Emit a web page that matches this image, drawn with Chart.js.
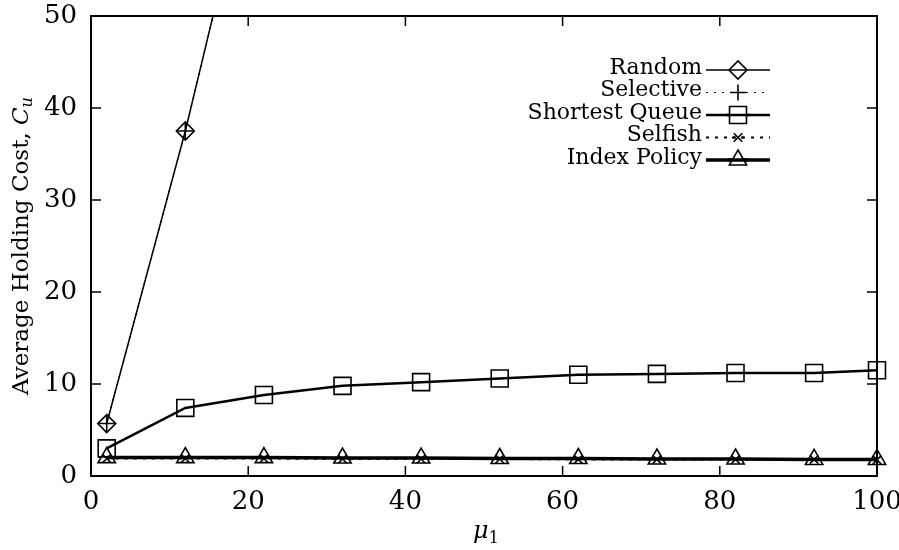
<!DOCTYPE html>
<html>
<head>
<meta charset="utf-8">
<script src="https://cdn.jsdelivr.net/npm/chart.js@4"></script>
<style>
  html, body { margin: 0; padding: 0; background: #fff; }
  #wrap { width: 899px; height: 550px; }
</style>
</head>
<body>
<div id="wrap"><canvas id="costChart"></canvas></div>
<script>
// service rate of queue 1
var muValues = [2, 12, 22, 32, 42, 52, 62, 72, 82, 92, 100];
// average holding cost per policy (null = beyond the plotted range)
var randomCost = [5.7, 37.5, 73, null, null, null, null, null, null, null, null];
var selectiveCost = [5.7, 37.5, 73, null, null, null, null, null, null, null, null];
var shortestQueueCost = [3.0, 7.4, 8.8, 9.8, 10.2, 10.6, 11.0, 11.1, 11.2, 11.2, 11.5];
var selfishCost = [1.9, 1.9, 1.9, 1.85, 1.85, 1.85, 1.8, 1.8, 1.8, 1.8, 1.75];
var indexCost = [2.0, 2.0, 2.0, 1.95, 1.95, 1.9, 1.9, 1.85, 1.85, 1.8, 1.8];
var xTicks = [0, 20, 40, 60, 80, 100];
var yTicks = [0, 10, 20, 30, 40, 50];

var SERIF = '"DejaVu Serif", "Liberation Serif", serif';

function pts(values) {
    return muValues.map(function (m, i) { return { x: m, y: values[i] }; });
}

var clipBox = { left: 20, right: 20, top: 0, bottom: 20 };

var series = [
    { label: 'Index Policy', data: indexCost, style: 'triangle', radius: 10, width: 3.5, dash: [] },
    { label: 'Selfish', data: selfishCost, style: 'crossRot', radius: 6, width: 2, dash: [3, 6] },
    { label: 'Shortest Queue', data: shortestQueueCost, style: 'rect', radius: 12, width: 2.5, dash: [] },
    { label: 'Selective', data: selectiveCost, style: 'cross', radius: 8, width: 1.2, dash: [2, 6] },
    { label: 'Random', data: randomCost, style: 'rectRot', radius: 9, width: 1.5, dash: [] }
];

var datasets = series.map(function (s) {
    return {
        label: s.label,
        data: pts(s.data),
        borderColor: '#000',
        backgroundColor: 'rgba(0,0,0,0)',
        borderWidth: s.width,
        borderDash: s.dash,
        pointStyle: s.style,
        pointRadius: s.radius,
        pointBorderWidth: 1.6,
        pointBorderColor: '#000',
        pointBackgroundColor: 'rgba(0,0,0,0)',
        tension: 0,
        clip: clipBox
    };
});

// frame with inward ticks on all four sides
var framePlugin = {
    id: 'frame',
    afterDatasetsDraw: function (chart) {
        var ctx = chart.ctx, a = chart.chartArea;
        var xs = chart.scales.x, ys = chart.scales.y;
        var len = 10;
        ctx.save();
        ctx.strokeStyle = '#000';
        ctx.lineWidth = 2;
        ctx.strokeRect(a.left, a.top, a.right - a.left, a.bottom - a.top);
        ctx.lineWidth = 1.5;
        ctx.beginPath();
        xTicks.forEach(function (v) {
            var px = xs.getPixelForValue(v);
            ctx.moveTo(px, a.bottom); ctx.lineTo(px, a.bottom - len);
            ctx.moveTo(px, a.top); ctx.lineTo(px, a.top + len);
        });
        yTicks.forEach(function (v) {
            var py = ys.getPixelForValue(v);
            ctx.moveTo(a.left, py); ctx.lineTo(a.left + len, py);
            ctx.moveTo(a.right, py); ctx.lineTo(a.right - len, py);
        });
        ctx.stroke();
        ctx.restore();
    }
};

// axis titles with italic symbols and subscripts
var titlePlugin = {
    id: 'axisTitles',
    afterDraw: function (chart) {
        var ctx = chart.ctx, a = chart.chartArea;
        ctx.save();
        ctx.fillStyle = '#000';
        ctx.textBaseline = 'alphabetic';

        // y title, rotated
        var main = 'Average Holding Cost, ';
        ctx.font = '23px ' + SERIF;
        var w1 = ctx.measureText(main).width;
        ctx.font = 'italic 23px ' + SERIF;
        var w2 = ctx.measureText('C').width;
        ctx.font = 'italic 16px ' + SERIF;
        var w3 = ctx.measureText('u').width;
        var total = w1 + w2 + w3;
        ctx.translate(28, (a.top + a.bottom) / 2);
        ctx.rotate(-Math.PI / 2);
        var x0 = -total / 2;
        ctx.font = '23px ' + SERIF;
        ctx.fillText(main, x0, 0);
        ctx.font = 'italic 23px ' + SERIF;
        ctx.fillText('C', x0 + w1, 0);
        ctx.font = 'italic 16px ' + SERIF;
        ctx.fillText('u', x0 + w1 + w2, 4);
        ctx.setTransform(1, 0, 0, 1, 0, 0);

        // x title
        ctx.font = 'italic 24px ' + SERIF;
        var m1 = ctx.measureText('\u03bc').width;
        ctx.font = '16px ' + SERIF;
        var m2 = ctx.measureText('1').width;
        var cx = (a.left + a.right) / 2 + 2;
        var bx = cx - (m1 + m2) / 2;
        ctx.font = 'italic 24px ' + SERIF;
        ctx.fillText('\u03bc', bx, 538);
        ctx.font = '16px ' + SERIF;
        ctx.fillText('1', bx + m1, 543);
        ctx.restore();
    }
};

// key: right-aligned names with a line sample and marker
var keyPlugin = {
    id: 'key',
    afterDraw: function (chart) {
        var ctx = chart.ctx;
        var order = ['Random', 'Selective', 'Shortest Queue', 'Selfish', 'Index Policy'];
        var textRight = 702, lineL = 706, lineR = 770, markX = 738;
        var y0 = 68, step = 22.5;
        ctx.save();
        order.forEach(function (name, i) {
            var s = series.filter(function (d) { return d.label === name; })[0];
            var y = y0 + i * step;
            ctx.font = '22px ' + SERIF;
            ctx.fillStyle = '#000';
            ctx.textAlign = 'right';
            ctx.textBaseline = 'middle';
            ctx.fillText(name, textRight, y);
            ctx.strokeStyle = '#000';
            ctx.lineWidth = s.width;
            ctx.setLineDash(s.dash);
            ctx.beginPath();
            ctx.moveTo(lineL, y + 2);
            ctx.lineTo(lineR, y + 2);
            ctx.stroke();
            ctx.setLineDash([]);
            ctx.lineWidth = 1.6;
            ctx.fillStyle = '#fff';
            Chart.helpers.drawPoint(ctx, {
                pointStyle: s.style, radius: s.radius, rotation: 0, borderWidth: 1.6
            }, markX, y + 2);
            // redraw the line through the hollow marker
            ctx.lineWidth = s.width;
            ctx.setLineDash(s.dash);
            ctx.beginPath();
            ctx.moveTo(markX - s.radius, y + 2);
            ctx.lineTo(markX + s.radius, y + 2);
            ctx.stroke();
            ctx.setLineDash([]);
        });
        ctx.restore();
    }
};

new Chart(document.getElementById('costChart'), {
    type: 'line',
    data: { datasets: datasets },
    plugins: [framePlugin, titlePlugin, keyPlugin],
    options: {
        responsive: true,
        maintainAspectRatio: false,
        animation: false,
        layout: { padding: { left: 0, top: 16, right: 22, bottom: 0 } },
        plugins: { legend: { display: false }, tooltip: { enabled: false } },
        scales: {
            x: {
                type: 'linear',
                min: 0,
                max: 100,
                afterBuildTicks: function (scale) {
                    scale.ticks = xTicks.map(function (v) { return { value: v }; });
                },
                afterFit: function (scale) {
                    scale.height = 74;
                    scale.paddingLeft = 0;
                    scale.paddingRight = 0;
                },
                grid: { display: false, drawTicks: false },
                border: { display: false },
                ticks: {
                    color: '#000',
                    font: { family: SERIF, size: 26 },
                    padding: 11,
                    maxRotation: 0,
                    autoSkip: false
                }
            },
            y: {
                min: 0,
                max: 50,
                afterBuildTicks: function (scale) {
                    scale.ticks = yTicks.map(function (v) { return { value: v }; });
                },
                afterFit: function (scale) {
                    scale.width = 91;
                    scale.paddingTop = 0;
                    scale.paddingBottom = 0;
                },
                grid: { display: false, drawTicks: false },
                border: { display: false },
                ticks: {
                    color: '#000',
                    font: { family: SERIF, size: 26 },
                    padding: 14
                }
            }
        }
    }
});
</script>
</body>
</html>
